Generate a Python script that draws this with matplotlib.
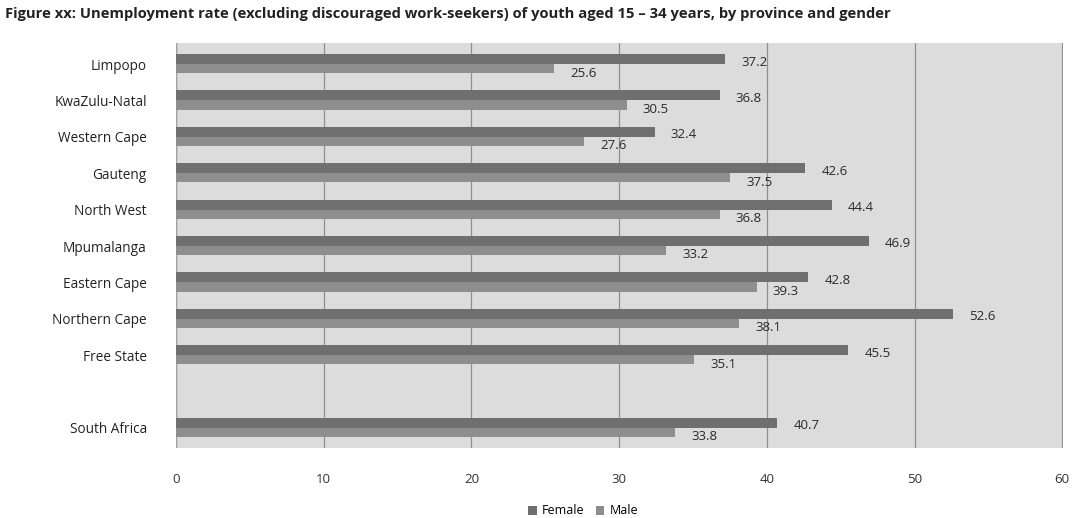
import matplotlib
matplotlib.use("Agg")
import matplotlib.pyplot as plt
import numpy as np

provinces = ["Limpopo", "KwaZulu-Natal", "Western Cape", "Gauteng", "North West",
             "Mpumalanga", "Eastern Cape", "Northern Cape", "Free State", "South Africa"]
female = [37.2, 36.8, 32.4, 42.6, 44.4, 46.9, 42.8, 52.6, 45.5, 40.7]
male = [25.6, 30.5, 27.6, 37.5, 36.8, 33.2, 39.3, 38.1, 35.1, 33.8]
xticks = [0, 10, 20, 30, 40, 50, 60]

plt.rcParams['font.family'] = ['Open Sans', 'DejaVu Sans']

fig = plt.figure(figsize=(10.74, 5.18), dpi=100)
ax = fig.add_axes([176 / 1074, 1 - 448 / 518, (1063 - 176) / 1074, (448 - 43) / 518])

# provinces on rows 0..8, national total after a blank row
pos = np.array(list(range(9)) + [10], dtype=float)
hf, hm = 0.275, 0.25
ax.barh(pos - hf / 2, female, height=hf, color="#6f6f6f", label="Female", zorder=3)
ax.barh(pos + hm / 2, male, height=hm, color="#8e8e8e", label="Male", zorder=3)

for y, f, m in zip(pos, female, male):
    ax.text(f + 1.1, y - hf / 2 + 0.08, f"{f:.1f}", va="center", ha="left",
            fontsize=9.5, color="#2a2a2a", zorder=4)
    ax.text(m + 1.1, y + hm / 2 + 0.12, f"{m:.1f}", va="center", ha="left",
            fontsize=9.5, color="#2a2a2a", zorder=4)

ax.set_xlim(0, 60.05)
ax.set_ylim(10.55, -0.58)
ax.set_facecolor("#dcdcdc")
ax.set_xticks(xticks)
ax.set_xticklabels([str(t) for t in xticks], fontsize=9.5, color="#333333")
ax.set_yticks(pos)
ax.set_yticklabels(provinces, fontsize=9.8, color="#222222")
ax.tick_params(axis="both", length=0)
ax.tick_params(axis="x", pad=18)
ax.tick_params(axis="y", pad=21)
ax.xaxis.grid(True, color="#8f8f8f", linewidth=0.9, zorder=1)
for s in ax.spines.values():
    s.set_visible(False)
ax.axvline(0, color="#a0a0a0", linewidth=1.0, zorder=2)

fig.text(0.005, 1 - 14 / 518,
         "Figure xx: Unemployment rate (excluding discouraged work-seekers) of youth aged 15 \u2013 34 years, by province and gender",
         fontsize=10.6, fontweight="bold", va="center", ha="left", color="#222222")

handles, labels = ax.get_legend_handles_labels()
fig.legend(handles, labels, loc="center", bbox_to_anchor=(583 / 1074, 1 - 511 / 518),
           ncol=2, frameon=False, fontsize=9, handlelength=0.7, handleheight=0.7,
           columnspacing=0.9, handletextpad=0.4)

fig.savefig("out.png", dpi=100, facecolor="white")
